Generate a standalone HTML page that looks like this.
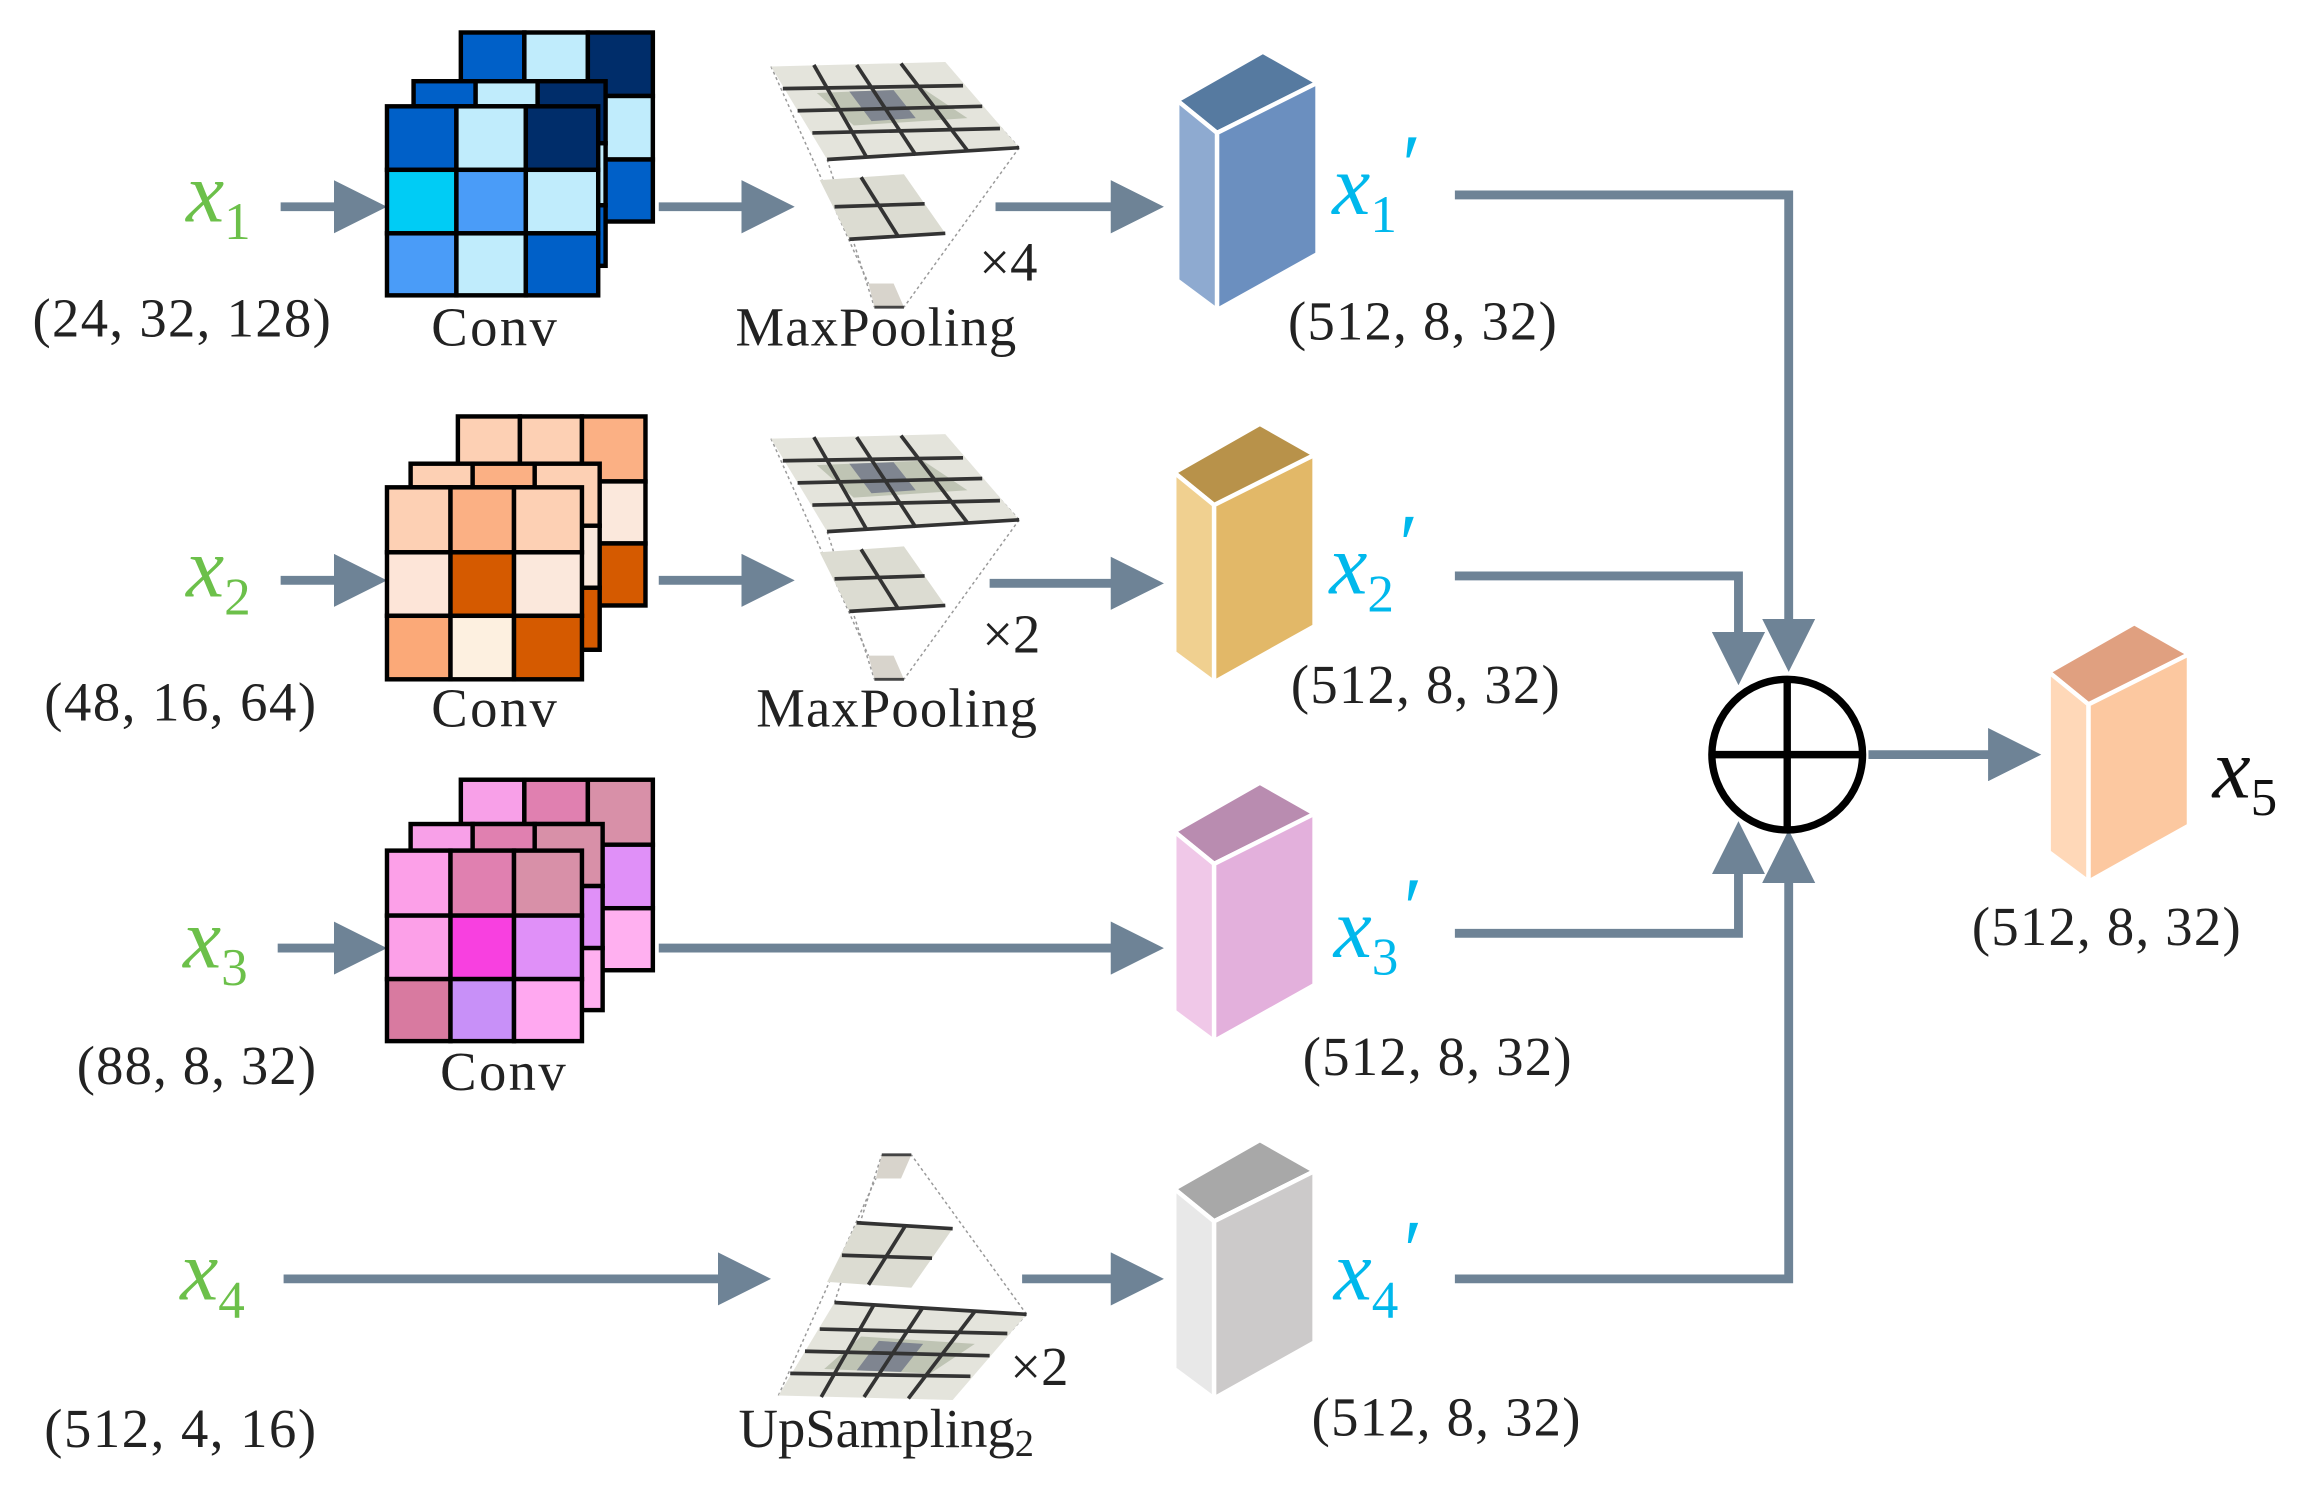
<!DOCTYPE html>
<html><head><meta charset="utf-8"><style>
html,body{margin:0;padding:0;background:#fff;}
svg{display:block;}
text{font-family:"Liberation Serif",serif;}
</style></head><body>
<svg width="2316" height="1493" viewBox="0 0 1568 1011" preserveAspectRatio="none" xmlns="http://www.w3.org/2000/svg">
<defs>
<marker id="ah" markerWidth="6" markerHeight="6" refX="1" refY="3" orient="auto" markerUnits="strokeWidth">
<path d="M0,0 L6,3 L0,6 z" fill="#6e8396"/></marker>
<g id="pool">
 <g stroke="#999" stroke-width="1" stroke-dasharray="2,2" fill="none">
  <line x1="522" y1="45" x2="588" y2="192"/><line x1="690" y1="100" x2="612" y2="208"/>
  <line x1="560" y1="108" x2="592" y2="208"/><line x1="640" y1="45" x2="690" y2="100"/>
 </g>
 <polygon points="522,45 640,42 690,100 560,108" fill="#e4e4dc"/>
 <polygon points="553,63 625,60 655,80 578,85" fill="#bfc4b4"/>
 <polygon points="575,62 605,61 620,80 590,82" fill="#7f8590"/>
 <g stroke="#333" stroke-width="2.5" fill="none">
  <line x1="530" y1="60" x2="652" y2="58"/><line x1="540" y1="75" x2="665" y2="72"/>
  <line x1="550" y1="90" x2="677" y2="87"/><line x1="560" y1="108" x2="690" y2="100"/>
  <line x1="551" y1="44" x2="587" y2="107"/><line x1="580" y1="44" x2="620" y2="105"/><line x1="610" y1="43" x2="655" y2="102"/>
 </g>
 <polygon points="555,122 612,118 640,158 575,162" fill="#dcdcd2"/>
 <g stroke="#333" stroke-width="2.5" fill="none">
  <line x1="565" y1="140" x2="626" y2="138"/><line x1="575" y1="162" x2="640" y2="158"/>
  <line x1="583" y1="120" x2="608" y2="160"/>
 </g>
 <polygon points="588,192 605,192 612,208 592,208" fill="#d8d4cc"/>
 <line x1="592" y1="208" x2="612" y2="208" stroke="#444" stroke-width="2"/>
</g>
<g id="cub">
 <polygon points="797,68 855,35 892,56 824,90" fill="var(--t)" stroke="#fff" stroke-width="3"/>
 <polygon points="797,68 824,90 824,210 797,190" fill="var(--l)" stroke="#fff" stroke-width="3"/>
 <polygon points="824,90 892,56 892,172 824,210" fill="var(--f)" stroke="#fff" stroke-width="3"/>
</g>
</defs>

<g stroke="#6e8396" stroke-width="6" fill="none">
 <line x1="190" y1="140" x2="232" y2="140" marker-end="url(#ah)"/>
 <line x1="446" y1="140" x2="508" y2="140" marker-end="url(#ah)"/>
 <line x1="674" y1="140" x2="758" y2="140" marker-end="url(#ah)"/>
 <line x1="190" y1="393" x2="232" y2="393" marker-end="url(#ah)"/>
 <line x1="446" y1="393" x2="508" y2="393" marker-end="url(#ah)"/>
 <line x1="670" y1="395" x2="758" y2="395" marker-end="url(#ah)"/>
 <line x1="188" y1="642" x2="232" y2="642" marker-end="url(#ah)"/>
 <line x1="446" y1="642" x2="758" y2="642" marker-end="url(#ah)"/>
 <line x1="192" y1="866" x2="492" y2="866" marker-end="url(#ah)"/>
 <line x1="692" y1="866" x2="758" y2="866" marker-end="url(#ah)"/>
 <polyline points="985,132 1211,132 1211,425" marker-end="url(#ah)"/>
 <polyline points="985,390 1177,390 1177,434" marker-end="url(#ah)"/>
 <polyline points="985,632 1177,632 1177,586" marker-end="url(#ah)"/>
 <polyline points="985,866 1211,866 1211,592" marker-end="url(#ah)"/>
 <line x1="1265" y1="511" x2="1352" y2="511" marker-end="url(#ah)"/>
</g>
<circle cx="1210" cy="511" r="51" fill="#fff" stroke="#000" stroke-width="5"/>
<line x1="1159" y1="511" x2="1261" y2="511" stroke="#000" stroke-width="5"/>
<line x1="1210" y1="460" x2="1210" y2="562" stroke="#000" stroke-width="5"/>

<!-- Conv 1 -->
<g stroke="#000" stroke-width="3">
 <rect x="312" y="22" width="43" height="43" fill="#0060c8"/><rect x="355" y="22" width="43" height="43" fill="#c0ecfc"/><rect x="398" y="22" width="44" height="43" fill="#002d6a"/>
 <rect x="398" y="65" width="44" height="43" fill="#c0ecfc"/><rect x="398" y="108" width="44" height="42" fill="#0060c8"/>
 <rect x="280" y="55" width="42" height="17" fill="#0060c8"/><rect x="322" y="55" width="42" height="17" fill="#c0ecfc"/><rect x="364" y="55" width="46" height="42" fill="#002d6a"/>
 <rect x="364" y="97" width="46" height="42" fill="#c0ecfc"/><rect x="364" y="139" width="46" height="41" fill="#0060c8"/>
 <rect x="262" y="72" width="47" height="43" fill="#0060c8"/><rect x="309" y="72" width="47" height="43" fill="#c0ecfc"/><rect x="356" y="72" width="49" height="43" fill="#002d6a"/>
 <rect x="262" y="115" width="47" height="43" fill="#00ccf5"/><rect x="309" y="115" width="47" height="43" fill="#4a9cf8"/><rect x="356" y="115" width="49" height="43" fill="#c0ecfc"/>
 <rect x="262" y="158" width="47" height="42" fill="#4a9cf8"/><rect x="309" y="158" width="47" height="42" fill="#c0ecfc"/><rect x="356" y="158" width="49" height="42" fill="#0060c8"/>
</g>
<!-- Conv 2 -->
<g stroke="#000" stroke-width="3">
 <rect x="310" y="282" width="42" height="32" fill="#fdd0b4"/><rect x="352" y="282" width="42" height="32" fill="#fdd0b4"/><rect x="394" y="282" width="43" height="44" fill="#fbb084"/>
 <rect x="394" y="326" width="43" height="42" fill="#fbe8dc"/><rect x="394" y="368" width="43" height="42" fill="#d55a00"/>
 <rect x="278" y="314" width="42" height="16" fill="#fdd0b4"/><rect x="320" y="314" width="42" height="16" fill="#fbb084"/><rect x="362" y="314" width="44" height="42" fill="#fdd0b4"/>
 <rect x="362" y="356" width="44" height="42" fill="#fbe8dc"/><rect x="362" y="398" width="44" height="42" fill="#d55a00"/>
 <rect x="262" y="330" width="43" height="44" fill="#fdd0b4"/><rect x="305" y="330" width="43" height="44" fill="#fbb084"/><rect x="348" y="330" width="46" height="44" fill="#fdd0b4"/>
 <rect x="262" y="374" width="43" height="43" fill="#fde5d8"/><rect x="305" y="374" width="43" height="43" fill="#d55a00"/><rect x="348" y="374" width="46" height="43" fill="#fbe8dc"/>
 <rect x="262" y="417" width="43" height="43" fill="#fba978"/><rect x="305" y="417" width="43" height="43" fill="#fdf0e0"/><rect x="348" y="417" width="46" height="43" fill="#d55a00"/>
</g>
<!-- Conv 3 -->
<g stroke="#000" stroke-width="3">
 <rect x="312" y="528" width="43" height="30" fill="#f8a0e8"/><rect x="355" y="528" width="43" height="30" fill="#e080b0"/><rect x="398" y="528" width="44" height="44" fill="#d890a8"/>
 <rect x="398" y="572" width="44" height="43" fill="#e090f8"/><rect x="398" y="615" width="44" height="42" fill="#ffb0f0"/>
 <rect x="278" y="558" width="42" height="18" fill="#f8a0e8"/><rect x="320" y="558" width="42" height="18" fill="#e080b0"/><rect x="362" y="558" width="46" height="42" fill="#d890a8"/>
 <rect x="362" y="600" width="46" height="42" fill="#e090f8"/><rect x="362" y="642" width="46" height="42" fill="#ffb0f0"/>
 <rect x="262" y="576" width="43" height="44" fill="#fca0e8"/><rect x="305" y="576" width="43" height="44" fill="#e080b0"/><rect x="348" y="576" width="46" height="44" fill="#d890a8"/>
 <rect x="262" y="620" width="43" height="43" fill="#fca0e8"/><rect x="305" y="620" width="43" height="43" fill="#f840e0"/><rect x="348" y="620" width="46" height="43" fill="#e090f8"/>
 <rect x="262" y="663" width="43" height="42" fill="#d87aa0"/><rect x="305" y="663" width="43" height="42" fill="#c890f8"/><rect x="348" y="663" width="46" height="42" fill="#ffa8f0"/>
</g>

<use href="#pool"/>
<use href="#pool" transform="translate(0,252)"/>
<use href="#pool" transform="translate(5,990) scale(1,-1)"/>

<use href="#cub" style="--t:#567aa0;--l:#8eaad0;--f:#6b8fbf"/>
<use href="#cub" transform="translate(-2,252)" style="--t:#b8924a;--l:#f0d090;--f:#e2b868"/>
<use href="#cub" transform="translate(-2,495)" style="--t:#b98cb0;--l:#f0c8e8;--f:#e3b0dc"/>
<use href="#cub" transform="translate(-2,737)" style="--t:#a8a8a8;--l:#e8e8e8;--f:#cccaca"/>
<use href="#cub" transform="translate(590,387)" style="--t:#e0a080;--l:#ffd8b8;--f:#fcc8a0"/>

<g font-size="37" fill="#222">
 <text x="22" y="228" textLength="202">(24, 32, 128)</text>
 <text x="292" y="234" textLength="85">Conv</text>
 <text x="498" y="234" textLength="190">MaxPooling</text>
 <text x="663" y="190">×4</text>
 <text x="872" y="230" textLength="182">(512, 8, 32)</text>
 <text x="30" y="488" textLength="184">(48, 16, 64)</text>
 <text x="292" y="492" textLength="85">Conv</text>
 <text x="512" y="492" textLength="190">MaxPooling</text>
 <text x="665" y="442">×2</text>
 <text x="874" y="476" textLength="182">(512, 8, 32)</text>
 <text x="52" y="734" textLength="162">(88, 8, 32)</text>
 <text x="298" y="738" textLength="85">Conv</text>
 <text x="882" y="728" textLength="182">(512, 8, 32)</text>
 <text x="30" y="980" textLength="184">(512, 4, 16)</text>
 <text x="500" y="980">UpSampling<tspan font-size="26" dy="6">2</tspan></text>
 <text x="684" y="938">×2</text>
 <text x="888" y="972" textLength="182">(512, 8, 32)</text>
 <text x="1335" y="640" textLength="182">(512, 8, 32)</text>
</g>
<g font-style="italic" font-size="58">
 <text x="126" y="150" fill="#6cc04a">x<tspan font-size="36" font-style="normal" dy="12">1</tspan></text>
 <text x="126" y="404" fill="#6cc04a">x<tspan font-size="36" font-style="normal" dy="12">2</tspan></text>
 <text x="124" y="655" fill="#6cc04a">x<tspan font-size="36" font-style="normal" dy="12">3</tspan></text>
 <text x="122" y="880" fill="#6cc04a">x<tspan font-size="36" font-style="normal" dy="12">4</tspan></text>
 <text x="902" y="145" fill="#00b8ec">x<tspan font-size="36" font-style="normal" dy="12">1</tspan><tspan dy="-26">′</tspan></text>
 <text x="900" y="402" fill="#00b8ec">x<tspan font-size="36" font-style="normal" dy="12">2</tspan><tspan dy="-26">′</tspan></text>
 <text x="903" y="648" fill="#00b8ec">x<tspan font-size="36" font-style="normal" dy="12">3</tspan><tspan dy="-26">′</tspan></text>
 <text x="903" y="880" fill="#00b8ec">x<tspan font-size="36" font-style="normal" dy="12">4</tspan><tspan dy="-26">′</tspan></text>
 <text x="1498" y="540" fill="#111">x<tspan font-size="36" font-style="normal" dy="12">5</tspan></text>
</g>
</svg>
</body></html>
